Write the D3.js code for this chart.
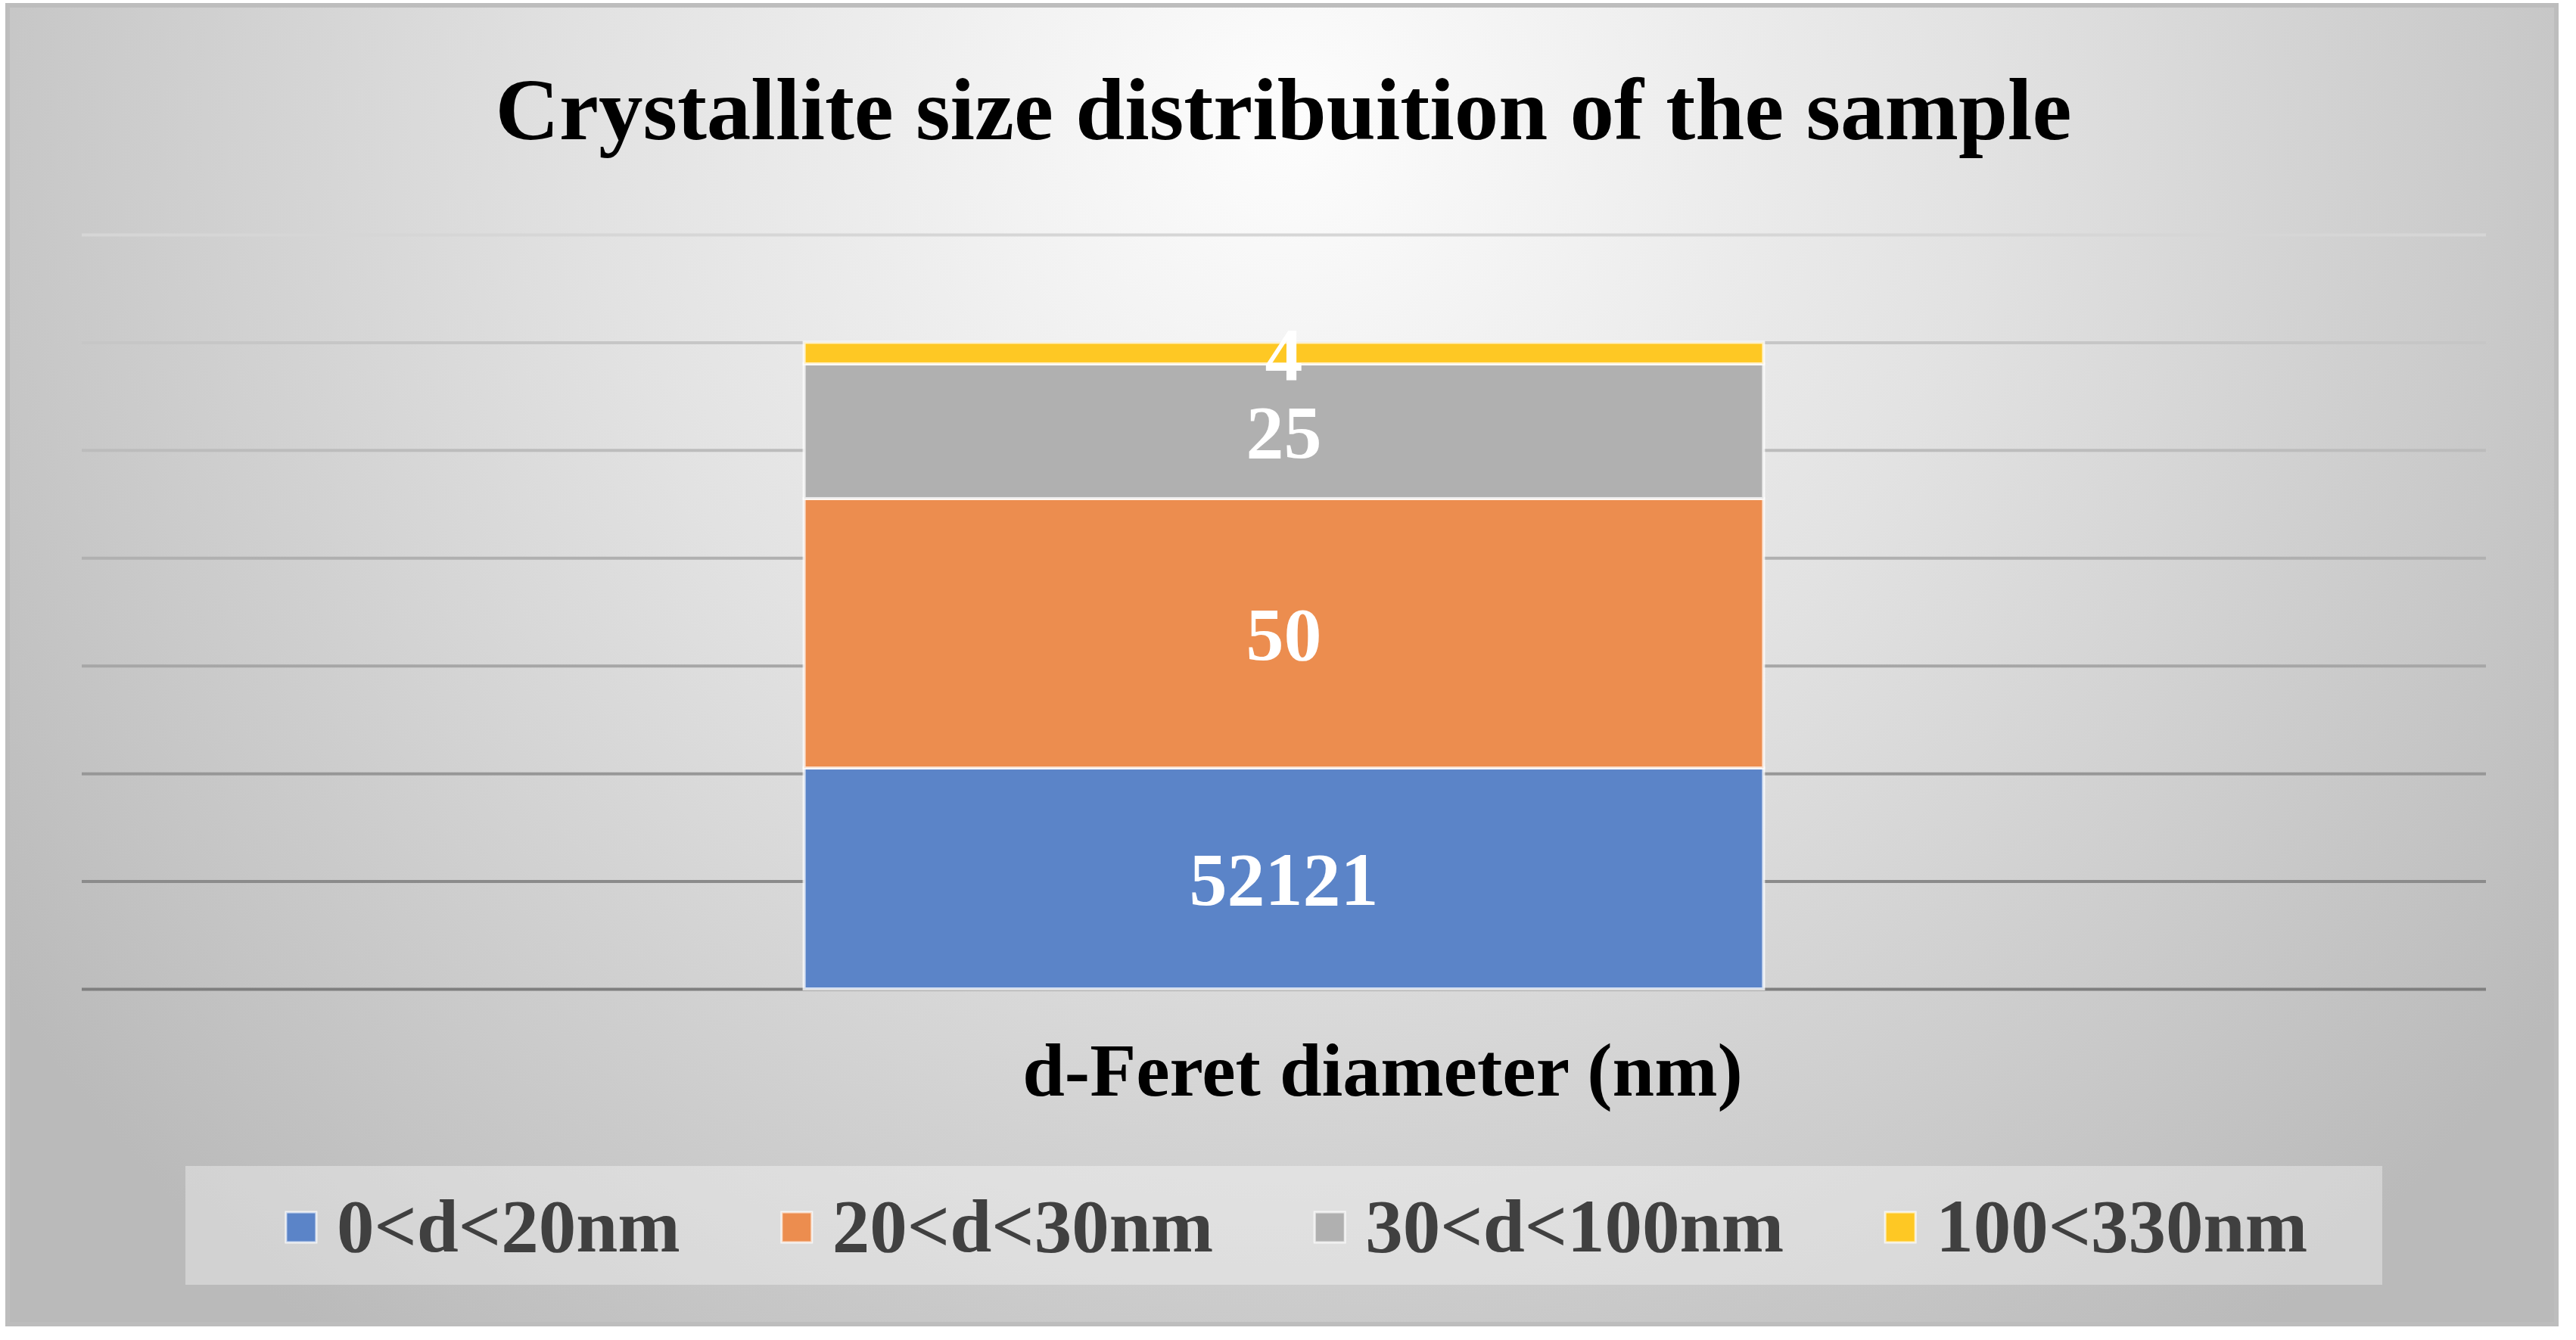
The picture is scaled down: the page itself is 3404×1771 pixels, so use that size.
<!DOCTYPE html>
<html lang="en">
<head>
    <meta charset="UTF-8">
    <title>Crystallite size distribuition of the sample</title>
    <script src="https://d3js.org/d3.v7.min.js"></script>
    <style>
        body {
            margin: 0;
            padding: 0;
            background-color: #fff;
        }
        svg text {
            font-family: 'Liberation Serif', 'Times New Roman', serif;
            font-weight: bold;
        }
    </style>
</head>
<body>
    <svg id="chart"></svg>
    <script>
        // chart data
        const categories = ["d-Feret diameter (nm)"];
        const seriesNames = ["0<d<20nm", "20<d<30nm", "30<d<100nm", "100<330nm"];
        const seriesValues = [41, 50, 25, 4];
        const seriesLabels = ["52121", "50", "25", "4"];
        const yTicks = [0, 20, 40, 60, 80, 100, 120, 140];

        const colors = ["#5b84c8", "#ec8d4f", "#b0b0b0", "#fec824"];

        const width = 3404, height = 1771;
        const svg = d3.select("#chart").attr("width", width).attr("height", height);

        // background gradient
        const defs = svg.append("defs");
        const bg = defs.append("radialGradient")
            .attr("id", "bgGrad")
            .attr("gradientUnits", "userSpaceOnUse")
            .attr("cx", 1700).attr("cy", 160).attr("r", 2050);
        bg.append("stop").attr("offset", "0%").attr("stop-color", "#fdfdfd");
        bg.append("stop").attr("offset", "45%").attr("stop-color", "#e2e2e2");
        bg.append("stop").attr("offset", "100%").attr("stop-color", "#bababa");

        svg.append("rect")
            .attr("x", 10).attr("y", 7)
            .attr("width", 3368).attr("height", 1743)
            .attr("fill", "url(#bgGrad)")
            .attr("stroke", "#bdbdbd")
            .attr("stroke-width", 6);

        const plot = { left: 108, right: 3285, top: 310, bottom: 1307 };

        const x = d3.scaleBand()
            .domain(categories)
            .range([plot.left, plot.right])
            .paddingInner(0)
            .paddingOuter(0.753);

        const y = d3.scaleLinear()
            .domain([0, 140])
            .range([plot.bottom, plot.top]);

        // gridlines, darker toward the bottom
        const gridColor = d3.scaleLinear()
            .domain([0, 20, 40, 60, 80, 100, 120, 140])
            .range(["#7f7f7f", "#8b8b8b", "#979797", "#a6a6a6", "#b0b0b0", "#bcbcbc", "#c6c6c6", "#d6d6d6"]);

        const grid = svg.append("g")
            .attr("transform", `translate(${plot.left},0)`)
            .call(d3.axisLeft(y)
                .tickValues(yTicks)
                .tickSize(-(plot.right - plot.left))
                .tickFormat(""));
        grid.select(".domain").remove();
        grid.selectAll(".tick line")
            .attr("stroke", d => gridColor(d))
            .attr("stroke-width", 4);

        // stacked bar
        const rows = categories.map(c => {
            const r = { category: c };
            seriesNames.forEach((s, i) => r[s] = seriesValues[i]);
            return r;
        });
        const stacked = d3.stack().keys(seriesNames)(rows);

        const layers = svg.append("g").selectAll("g")
            .data(stacked)
            .join("g")
            .attr("fill", (d, i) => colors[i]);

        layers.selectAll("rect")
            .data(d => d)
            .join("rect")
            .attr("x", d => x(d.data.category))
            .attr("width", x.bandwidth())
            .attr("y", d => y(d[1]))
            .attr("height", d => y(d[0]) - y(d[1]))
            .attr("stroke", "rgba(255,255,255,0.75)")
            .attr("stroke-width", 4);

        // value labels
        layers.selectAll("text")
            .data((d, i) => d.map(v => ({ v, label: seriesLabels[i] })))
            .join("text")
            .attr("x", d => x(d.v.data.category) + x.bandwidth() / 2)
            .attr("y", d => (y(d.v[0]) + y(d.v[1])) / 2)
            .attr("dy", "0.35em")
            .attr("text-anchor", "middle")
            .attr("fill", "#fff")
            .attr("font-size", 100)
            .text(d => d.label);

        // title
        svg.append("text")
            .attr("x", 1696)
            .attr("y", 184)
            .attr("text-anchor", "middle")
            .attr("fill", "#000")
            .attr("font-size", 117)
            .text("Crystallite size distribuition of the sample");

        // axis title
        svg.append("text")
            .attr("x", 1827)
            .attr("y", 1448)
            .attr("text-anchor", "middle")
            .attr("fill", "#000")
            .attr("font-size", 100)
            .text(categories[0]);

        // legend
        const legendBox = { x: 245, y: 1541, w: 2903, h: 157 };
        svg.append("rect")
            .attr("x", legendBox.x).attr("y", legendBox.y)
            .attr("width", legendBox.w).attr("height", legendBox.h)
            .attr("fill", "#ffffff")
            .attr("fill-opacity", 0.35);

        const legend = svg.append("g");
        const items = legend.selectAll("g")
            .data(seriesNames)
            .join("g");
        items.append("rect")
            .attr("width", 40).attr("height", 40)
            .attr("y", -52)
            .attr("fill", (d, i) => colors[i])
            .attr("stroke", "rgba(255,255,255,0.7)")
            .attr("stroke-width", 3);
        items.append("text")
            .attr("x", 67)
            .attr("y", 0)
            .attr("fill", "#404040")
            .attr("font-size", 99)
            .text(d => d);

        const gap = 134;
        let cursor = 0;
        const offsets = [];
        items.each(function () {
            offsets.push(cursor);
            const w = d3.select(this).select("text").node().getComputedTextLength();
            cursor += 67 + w + gap;
        });
        const total = cursor - gap;
        const startX = legendBox.x + legendBox.w / 2 + 17 - total / 2;
        items.attr("transform", (d, i) => `translate(${startX + offsets[i]},1654)`);
    </script>
</body>
</html>
